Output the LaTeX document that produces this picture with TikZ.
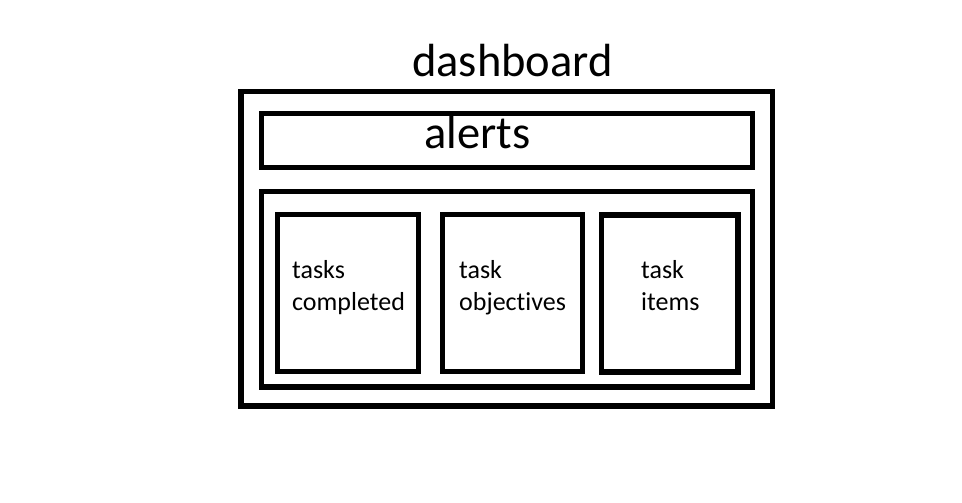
\documentclass[tikz,border=0pt]{standalone}
\usepackage{fontspec}
\setmainfont{Carlito}[Ligatures={NoCommon}]
\usetikzlibrary{positioning}

\tikzset{
    frame/.style={draw=black, line width=5.3pt, rectangle, inner sep=0pt},
    bigtext/.style={font=\fontsize{46.5}{56}\selectfont, inner sep=0pt},
    paneltext/.style={font=\fontsize{26}{32}\selectfont, align=left, inner sep=0pt, anchor=base west}
}

\begin{document}
\begin{tikzpicture}[x=1pt, y=-1pt]
    \useasboundingbox (0,0) rectangle (962,503);

    % Outer dashboard frame
    \node[frame, minimum width=531.5pt, minimum height=314.5pt] (dash) at (506.75,248.75) {};
    \node[bigtext, anchor=base] (dashtitle) at (512.5,77) {dashboard};

    % Alerts bar
    \node[frame, minimum width=491pt, minimum height=54pt] (alertbar) at (507,140.5) {};
    \node[bigtext, anchor=base] (alerttitle) at (477.5,148) {alerts};

    % Lower frame holding the three panels
    \node[frame, minimum width=491pt, minimum height=195.5pt] (lower) at (507,289.25) {};

    % The three panels
    \node[frame, minimum width=141pt, minimum height=157pt] (done) at (348,293) {};
    \node[frame, minimum width=140pt, minimum height=157pt] (objectives) at (512.5,293) {};
    \node[frame, minimum width=136.5pt, minimum height=157pt] (items) at (669.75,293.5) {};

    % Panel labels (anchor sits on the last line)
    \node[paneltext] (donetext) at (292,310) {tasks\\completed};
    \node[paneltext] (objtext) at (459,310) {task\\objectives};
    \node[paneltext] (itemtext) at (641,310) {task\\items};
\end{tikzpicture}
\end{document}
